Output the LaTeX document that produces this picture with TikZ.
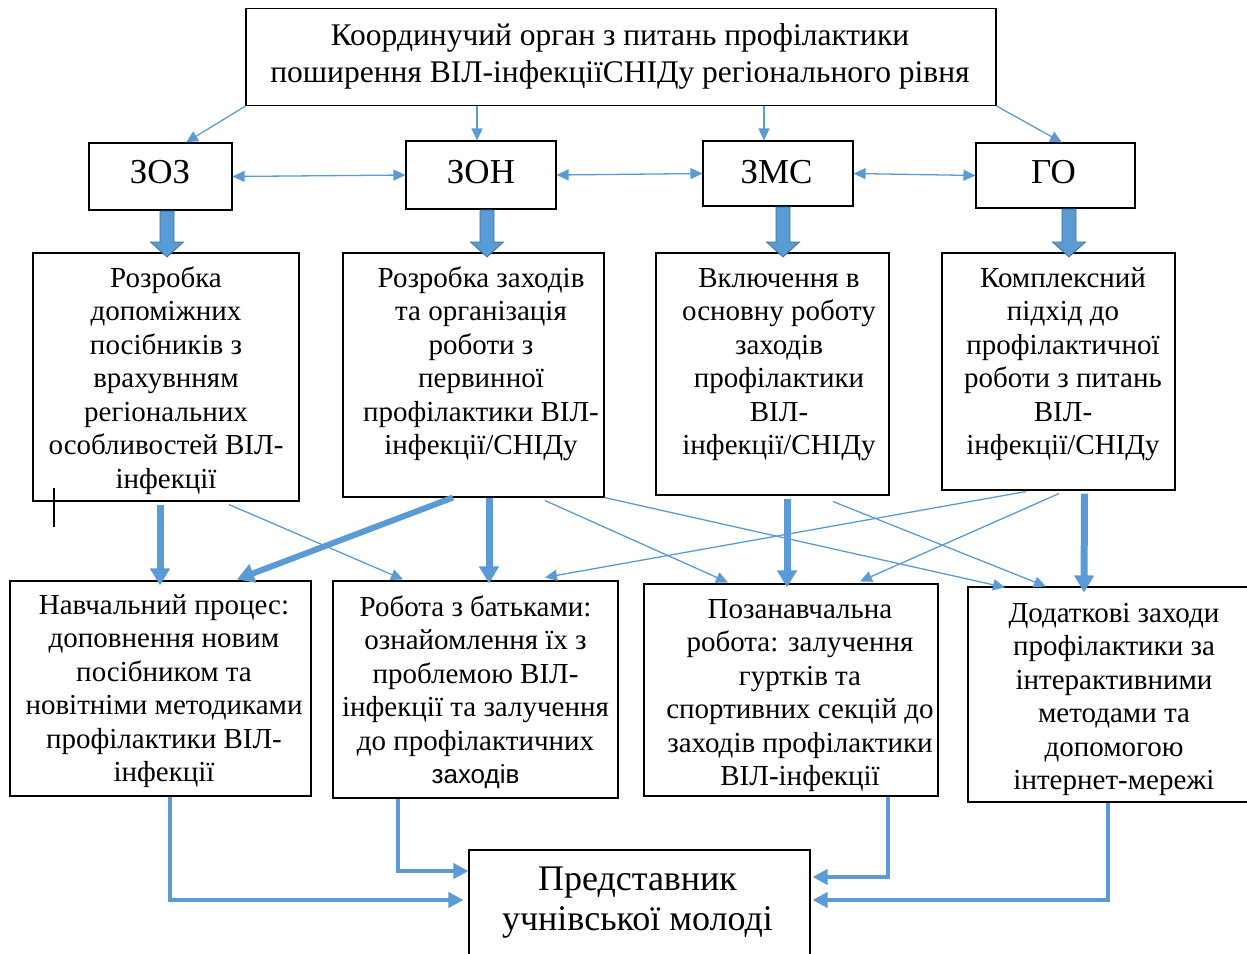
\documentclass[tikz,border=0pt]{standalone}
\usepackage{fontspec}
\setmainfont{Liberation Serif}
\newfontfamily\sansf{Liberation Sans}
\usetikzlibrary{arrows.meta,calc}
\definecolor{ablue}{HTML}{5B9BD5}
\definecolor{ablueline}{HTML}{41719C}
\newcommand\blockarrow[3]{%
  \filldraw[fill=ablue,draw=ablueline,line width=0.8pt]
    (#1-7,#2) -- (#1+7,#2) -- (#1+7,#3-15) -- (#1+16.5,#3-15) -- (#1,#3)
    -- (#1-16.5,#3-15) -- (#1-7,#3-15) -- cycle;}
\begin{document}
\begin{tikzpicture}[x=1pt,y=-1pt,
  box/.style={draw=black,line width=1.1pt,rectangle,inner sep=0pt},
  txt/.style={inner sep=0pt,anchor=base,font=\fontsize{29}{33.5}\selectfont},
  toptxt/.style={inner sep=0pt,anchor=base,font=\fontsize{31.5}{37}\selectfont},
  bigtxt/.style={inner sep=0pt,anchor=base,font=\fontsize{35}{40}\selectfont},
  bottxt/.style={inner sep=0pt,anchor=base,font=\fontsize{36}{40}\selectfont},
  tarr/.style={draw=ablue,line width=1.3pt,-{Triangle[length=12pt,width=11pt]}},
  darr/.style={draw=ablue,line width=1.3pt,{Triangle[length=12pt,width=11pt]}-{Triangle[length=12pt,width=11pt]}},
  karr/.style={draw=ablue,line width=7pt,-{Triangle[length=17pt,width=19pt]}},
  earr/.style={draw=ablue,line width=4.5pt,-{Triangle[length=15pt,width=15pt]}}
]
\useasboundingbox (0,0) rectangle (1247,953);
\fill[white] (0,0) rectangle (1247,953);

% boxes
\node[box,minimum width=750pt,minimum height=97pt] (top) at (621,57) {};
\node[box,minimum width=143pt,minimum height=67pt] (zoz) at (160.5,176.5) {};
\node[box,minimum width=150pt,minimum height=68pt] (zon) at (481,175) {};
\node[box,minimum width=150pt,minimum height=65pt] (zms) at (778,173.5) {};
\node[box,minimum width=159pt,minimum height=65pt] (go) at (1055.5,175.5) {};
\node[box,minimum width=266pt,minimum height=248pt] (b1) at (166,377) {};
\node[box,minimum width=261pt,minimum height=244pt] (b2) at (473.5,375) {};
\node[box,minimum width=233pt,minimum height=242pt] (b3) at (772.5,374) {};
\node[box,minimum width=233pt,minimum height=237pt] (b4) at (1058.5,371.5) {};
\node[box,minimum width=301pt,minimum height=215pt] (c1) at (160.5,688.5) {};
\node[box,minimum width=285pt,minimum height=217pt] (c2) at (475.5,689.5) {};
\node[box,minimum width=294pt,minimum height=212pt] (c3) at (791,690) {};
\node[box,minimum width=292pt,minimum height=215pt] (c4) at (1114,694.5) {};
\node[box,minimum width=341pt,minimum height=115pt] (bot) at (639.5,907.5) {};

% texts
\node[toptxt] (topt) at (620,45.5) {\begin{tabular}[t]{@{}c@{}}Координучий орган з питань профілактики\\поширення ВІЛ-інфекціїСНІДу регіонального рівня\end{tabular}};
\node[bigtxt] (zozt) at (160,183.5) {ЗОЗ};
\node[bigtxt] (zont) at (481,183) {ЗОН};
\node[bigtxt] (zmst) at (776.5,183) {ЗМС};
\node[bigtxt] (got) at (1053.5,183) {ГО};
\node[txt] (b1t) at (166,287) {\begin{tabular}[t]{@{}c@{}}Розробка\\допоміжних\\посібників з\\врахувнням\\регіональних\\особливостей ВІЛ-\\інфекції\end{tabular}};
\node[txt] (b2t) at (481,287) {\begin{tabular}[t]{@{}c@{}}Розробка заходів\\та організація\\роботи з\\первинної\\профілактики ВІЛ-\\інфекції/СНІДу\end{tabular}};
\node[txt] (b3t) at (779,287) {\begin{tabular}[t]{@{}c@{}}Включення в\\основну роботу\\заходів\\профілактики\\ВІЛ-\\інфекції/СНІДу\end{tabular}};
\node[txt] (b4t) at (1063,287) {\begin{tabular}[t]{@{}c@{}}Комплексний\\підхід до\\профілактичної\\роботи з питань\\ВІЛ-\\інфекції/СНІДу\end{tabular}};
\node[txt] (c1t) at (164,614) {\begin{tabular}[t]{@{}c@{}}Навчальний процес:\\доповнення новим\\посібником та\\новітніми методиками\\профілактики ВІЛ-\\інфекції\end{tabular}};
\node[txt] (c2t) at (475.5,616) {\begin{tabular}[t]{@{}c@{}}Робота з батьками:\\ознайомлення їх з\\проблемою ВІЛ-\\інфекції та залучення\\до профілактичних\\{\sansf\fontsize{26}{33.5}\selectfont заходів}\end{tabular}};
\node[txt] (c3t) at (800,618) {\begin{tabular}[t]{@{}c@{}}Позанавчальна\\робота: залучення\\гуртків та\\спортивних секцій до\\заходів профілактики\\ВІЛ-інфекції\end{tabular}};
\node[txt] (c4t) at (1114,622) {\begin{tabular}[t]{@{}c@{}}Додаткові заходи\\профілактики за\\інтерактивними\\методами та\\допомогою\\інтернет-мережі\end{tabular}};
\node[bottxt] (bott) at (637.5,890) {\begin{tabular}[t]{@{}c@{}}Представник\\учнівської молоді\end{tabular}};

% top thin arrows
\draw[tarr] (top.south west) -- ([xshift=25.5pt]zoz.north);
\draw[tarr] ([xshift=-4pt]zon.north |- top.south) -- ([xshift=-4pt]zon.north);
\draw[tarr] ([xshift=-14pt]zms.north |- top.south) -- ([xshift=-14pt]zms.north);
\draw[tarr] (top.south east) -- ([xshift=6.5pt]go.north);
% double arrows
\draw[darr] (zoz.east) -- (zon.west);
\draw[darr] (zon.east) -- (zms.west);
\draw[darr] (zms.east) -- (go.west);
% block arrows
\blockarrow{167}{211}{257}
\blockarrow{487}{210}{257}
\blockarrow{783}{207}{257}
\blockarrow{1069}{209}{257}
% thick arrows row 2 -> row 3
\draw[karr] ([xshift=-6pt,yshift=-3pt]b1.south) -- ([xshift=-0.5pt,yshift=-5pt]c1.north);
\draw[karr,line width=6pt] ([xshift=-20.5pt]b2.south) -- ([xshift=76.5pt,yshift=1pt]c1.north);
\draw[karr] ([xshift=15.5pt]b2.south) -- ([xshift=13.5pt,yshift=-3pt]c2.north);
\draw[karr] ([xshift=14.5pt,yshift=-3pt]b3.south) -- ([xshift=-4pt,yshift=-4pt]c3.north);
\draw[karr] ([xshift=26pt,yshift=-3pt]b4.south) -- ([xshift=-30pt,yshift=-6pt]c4.north);
% thin diagonals
\draw[tarr] ([xshift=63pt,yshift=-3pt]b1.south) -- ([xshift=-72.5pt,yshift=1pt]c2.north);
\draw[tarr] ([xshift=71.5pt,yshift=-3pt]b2.south) -- ([xshift=-63pt,yshift=1pt]c3.north);
\draw[tarr] (b2.south east) -- ([xshift=-109pt,yshift=-1pt]c4.north);
\draw[tarr] ([xshift=60.5pt,yshift=-6pt]b3.south) -- ([xshift=-68pt]c4.north);
\draw[tarr] ([xshift=-32.5pt,yshift=-1pt]b4.south) -- ([xshift=69.5pt,yshift=3pt]c2.north);
\draw[tarr] ([xshift=0.5pt,yshift=-3pt]b4.south) -- ([xshift=69pt,yshift=2pt]c3.north);
% elbow arrows to bottom
\draw[earr] ([xshift=9.5pt]c1.south) |- ([xshift=-5pt,yshift=7.5pt]bot.west);
\draw[earr] ([xshift=-77.5pt]c2.south) |- ([yshift=36.5pt]bot.west);
\draw[earr] ([xshift=97pt]c3.south) |- ([xshift=2pt,yshift=30.5pt]bot.east);
\draw[earr] ([xshift=-6pt]c4.south) |- ([xshift=2pt,yshift=7.5pt]bot.east);
% stray cursor mark
\draw[black,line width=1.2pt] (54,488) -- (54,527);
\end{tikzpicture}
\end{document}
